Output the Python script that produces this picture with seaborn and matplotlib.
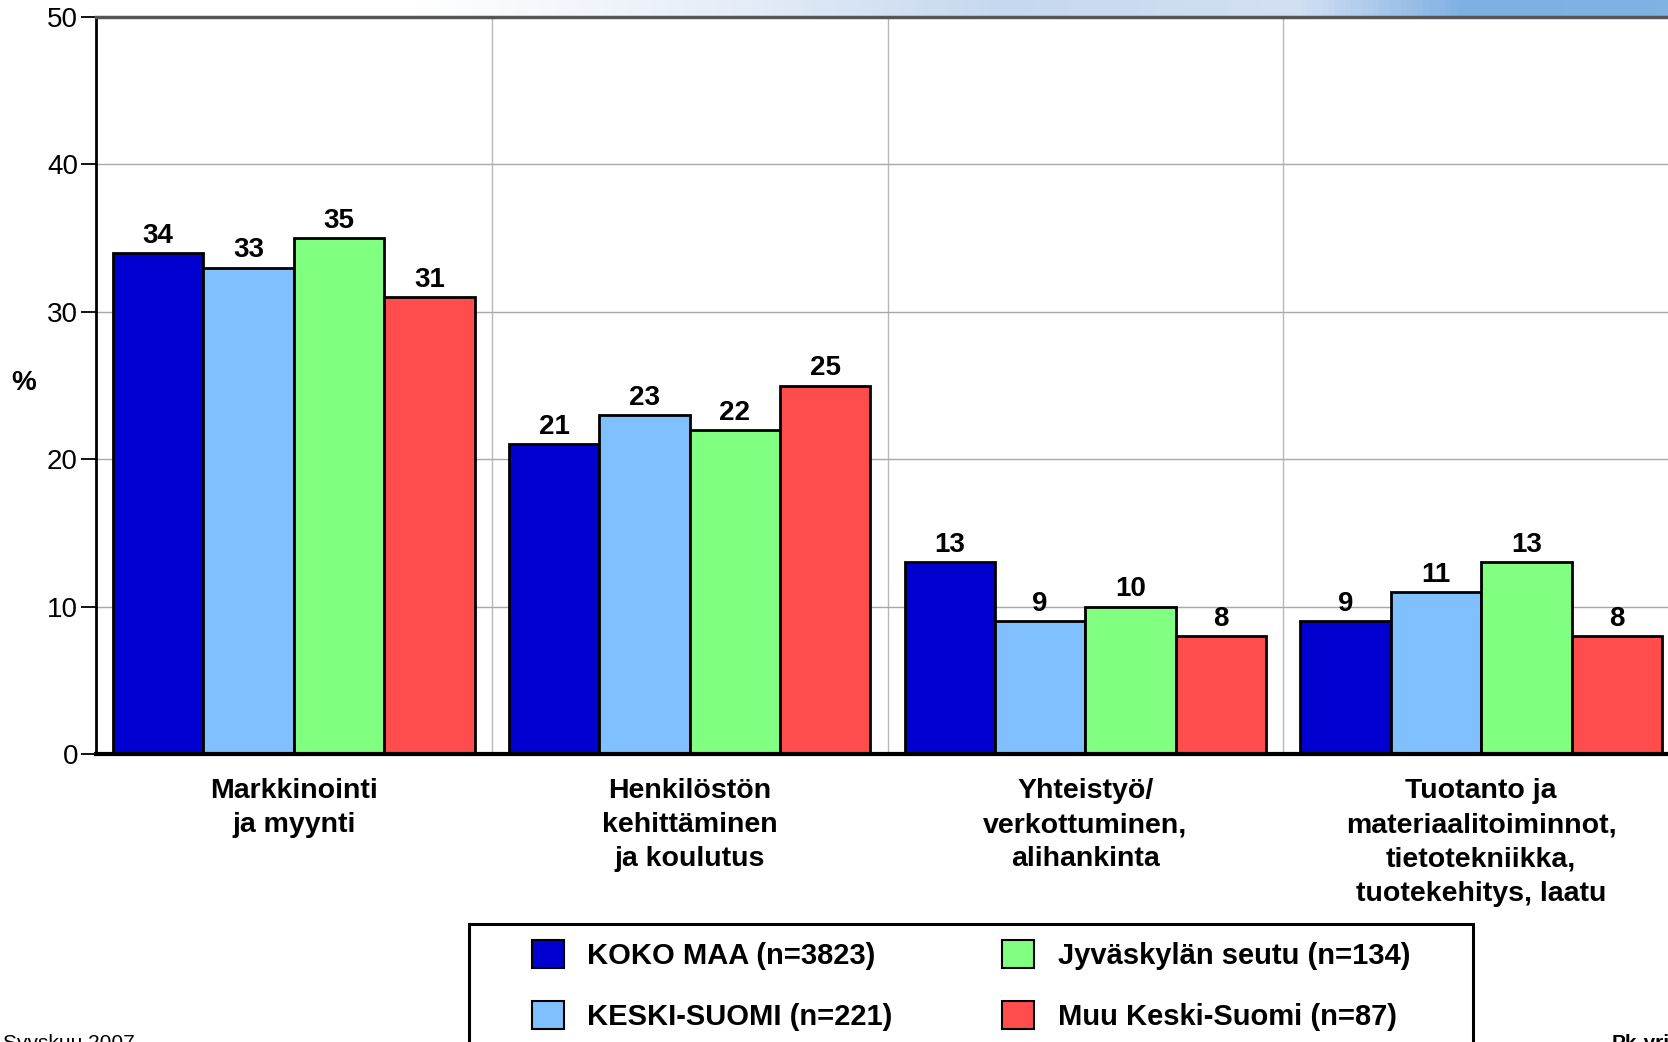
import numpy as np
import pandas as pd
import matplotlib.pyplot as plt
import seaborn as sns
from matplotlib.patches import Patch, Rectangle
from matplotlib.colors import LinearSegmentedColormap

# Toiminta-alueet (x-akseli)
kategoriat = ["Markkinointi\nja myynti",
              "Henkilöstön\nkehittäminen\nja koulutus",
              "Yhteistyö/\nverkottuminen,\nalihankinta",
              "Tuotanto ja\nmateriaalitoiminnot,\ntietotekniikka,\ntuotekehitys, laatu"]

sarjat = ["KOKO MAA (n=3823)", "KESKI-SUOMI (n=221)",
          "Jyväskylän seutu (n=134)", "Muu Keski-Suomi (n=87)"]

koko_maa = [34, 21, 13, 9]
keski_suomi = [33, 23, 9, 11]
jyvaskyla = [35, 22, 10, 13]
muu_ks = [31, 25, 8, 8]

varit = ["#0000d0", "#80c0ff", "#80ff80", "#ff4d4d"]

y_ticks = [0, 10, 20, 30, 40, 50]

# pitkä taulukko seabornia varten
arvot = [koko_maa, keski_suomi, jyvaskyla, muu_ks]
df = pd.DataFrame({
    "kategoria": [k for s in arvot for k in kategoriat],
    "sarja": [sarjat[i] for i, s in enumerate(arvot) for _ in s],
    "arvo": [v for s in arvot for v in s],
})

sns.set_style("white")
plt.rcParams["font.family"] = ["Liberation Sans", "DejaVu Sans"]
plt.rcParams["text.color"] = "black"
plt.rcParams["axes.labelcolor"] = "black"
plt.rcParams["xtick.color"] = "black"
plt.rcParams["ytick.color"] = "black"

W, H = 1668, 1042
fig = plt.figure(figsize=(W / 100, H / 100), dpi=100)

# liukuväri yläreunassa
gax = fig.add_axes([0, 1 - 17 / H, 1, 17 / H])
cmap = LinearSegmentedColormap.from_list(
    "tausta", [(0, "#ffffff"), (0.25, "#ffffff"), (0.45, "#e4ecf8"),
               (0.6, "#c5d8ef"), (0.78, "#d2e0f4"), (0.88, "#7eb0e2"),
               (1.0, "#80b2e2")])
gax.imshow(np.linspace(0, 1, 300)[None, :], aspect="auto", cmap=cmap)
gax.axis("off")

ax = fig.add_axes([96 / W, 1 - 754 / H, (1679 - 96) / W, (754 - 17) / H])

sns.barplot(data=df, x="kategoria", y="arvo", hue="sarja", order=kategoriat,
            hue_order=sarjat, palette=varit, width=0.914, edgecolor="black",
            linewidth=2, saturation=1, legend=False, ax=ax)

for cont in ax.containers:
    ax.bar_label(cont, fmt="%d", padding=3, fontsize=20, fontweight="bold",
                 color="black")

ax.set_xlim(-0.5, 3.5)
ax.set_ylim(0, 50)
ax.set_yticks(y_ticks)
ax.set_xticks(range(len(kategoriat)))
ax.set_xticklabels(kategoriat, fontsize=20.5, fontweight="bold", linespacing=1.42)
ax.set_xticks([0.5, 1.5, 2.5], minor=True)
ax.tick_params(axis="x", which="both", length=0, pad=17)
ax.tick_params(axis="y", length=11, width=1.3, color="black", direction="out",
               labelsize=20, pad=2, left=True)
ax.set_xlabel("")
ax.set_ylabel("%", rotation=0, fontsize=20, fontweight="bold", va="center",
              ha="center")
ax.yaxis.set_label_coords(-0.046, 0.503)

ax.set_axisbelow(True)
ax.grid(axis="y", color="#a8a8a8", linewidth=1)
ax.grid(axis="x", which="minor", color="#b8b8b8", linewidth=1)
ax.grid(axis="x", which="major", visible=False)

ax.spines["left"].set_color("black")
ax.spines["left"].set_linewidth(2)
ax.spines["bottom"].set_color("black")
ax.spines["bottom"].set_linewidth(3)
ax.spines["top"].set_color("#555555")
ax.spines["top"].set_linewidth(2.5)
ax.spines["right"].set_visible(False)

# selitteen kehys
fig.patches.append(Rectangle((469 / W, -0.05), (1473 - 469) / W, 0.05 + (1 - 924 / H),
                             transform=fig.transFigure, fill=False,
                             edgecolor="black", linewidth=2.2, clip_on=False))

kahvat = [Patch(facecolor=c, edgecolor="black", linewidth=1.5) for c in varit]
fig.legend(kahvat, sarjat, loc="upper left", bbox_to_anchor=(532 / W, 1 - 940 / H),
           ncol=2, frameon=False, borderpad=0, borderaxespad=0,
           prop={"size": 21, "weight": "bold"}, handlelength=1.1,
           handleheight=1.1, handletextpad=0.8, labelspacing=1.07,
           columnspacing=3.75)

fig.text(3 / W, 1 - 1034 / H, "Syyskuu 2007", fontsize=15, va="top", ha="left")
fig.text(1612 / W, 1 - 1034 / H, "Pk-yritysbarometri", fontsize=15,
         fontweight="bold", va="top", ha="left")

fig.savefig("out.png", dpi=100)
